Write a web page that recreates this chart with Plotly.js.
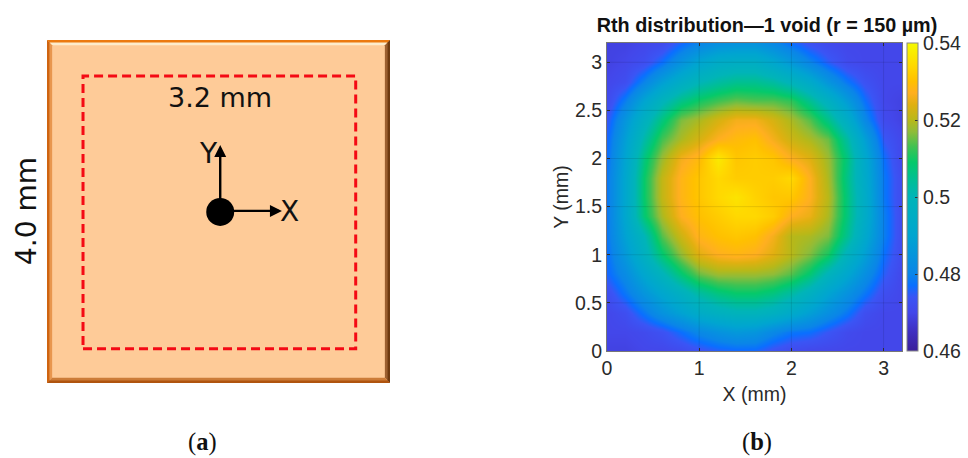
<!DOCTYPE html>
<html><head><meta charset="utf-8">
<script src="https://cdn.plot.ly/plotly-3.0.1.min.js"></script>
<style>html,body{margin:0;padding:0;background:#fff}#c{width:968px;height:458px}</style>
</head><body><div id="c"></div>
<script>
const gridX=[0,.2,.4,.6,.8,1,1.2,1.4,1.6,1.8,2,2.2,2.4,2.6,2.8,3,3.2];
const gridY=[0,.2,.4,.6,.8,1,1.2,1.4,1.6,1.8,2,2.2,2.4,2.6,2.8,3,3.2];
const rth=[
[.469,.469,.470,.470,.471,.473,.475,.476,.476,.473,.471,.470,.470,.470,.470,.470,.470],
[.470,.470,.471,.473,.477,.481,.484,.486,.485,.481,.478,.477,.474,.471,.470,.470,.470],
[.470,.472,.478,.484,.489,.494,.497,.499,.499,.497,.493,.488,.483,.478,.472,.470,.470],
[.472,.478,.485,.491,.497,.503,.507,.509,.509,.507,.503,.497,.490,.484,.478,.472,.470],
[.476,.482,.491,.499,.508,.515,.518,.518,.518,.517,.514,.508,.499,.491,.483,.475,.470],
[.477,.486,.497,.508,.517,.524,.527,.528,.527,.524,.520,.516,.510,.498,.488,.477,.471],
[.478,.489,.500,.514,.522,.528,.530,.531,.530,.526,.520,.519,.516,.505,.492,.479,.471],
[.478,.491,.508,.519,.527,.530,.532,.534,.534,.532,.527,.525,.519,.507,.494,.479,.471],
[.478,.491,.509,.521,.528,.531,.534,.536,.533,.531,.531,.527,.520,.507,.494,.478,.471],
[.478,.491,.509,.521,.528,.531,.534,.532,.532,.532,.534,.527,.519,.506,.493,.478,.471],
[.477,.490,.507,.518,.526,.529,.537,.531,.532,.531,.527,.524,.518,.507,.492,.477,.470],
[.476,.488,.502,.513,.519,.523,.527,.529,.530,.526,.522,.519,.515,.503,.488,.474,.470],
[.474,.485,.497,.507,.516,.519,.523,.526,.526,.523,.519,.514,.506,.495,.481,.471,.469],
[.471,.479,.490,.499,.506,.510,.513,.515,.514,.514,.512,.505,.497,.487,.477,.470,.469],
[.470,.472,.480,.488,.495,.500,.503,.505,.505,.503,.499,.493,.485,.478,.473,.470,.470],
[.469,.470,.472,.477,.484,.490,.494,.495,.495,.491,.486,.480,.475,.471,.470,.470,.470],
[.469,.469,.470,.471,.476,.480,.483,.484,.484,.481,.477,.473,.471,.470,.470,.470,.470]
];
const colorStops=[[.46,'#3a1f9a'],[.465,'#3f2fc0'],[.47,'#4347ea'],[.474,'#3a55f5'],[.477,'#0a6fff'],[.48,'#0a85e8'],[.49,'#00a5d0'],[.50,'#00b4b8'],[.505,'#00c090'],[.509,'#05c96a'],[.513,'#40c252'],[.517,'#90bc38'],[.52,'#b8b818'],[.524,'#e0b010'],[.527,'#ffaf20'],[.530,'#ffc000'],[.534,'#ffd800'],[.54,'#f5fa00']];
const zMin=.46,zMax=.54;
const colorTicks=[.46,.48,.5,.52,.54];
const colorTickText=['0.46','0.48','0.5','0.52','0.54'];
const xTicks=[0,1,2,3];
const yTicks=[0,.5,1,1.5,2,2.5,3];
const yTickText=['0','0.5','1','1.5','2','2.5','3'];
const title='Rth distribution—1 void (r = 150 µm)';
const dieSize=4.0, regionMin=.42, regionMax=3.6;
const origin=[2.02,1.995], dotR=.163, yTip=2.775, xTip=2.74;

const W=968,H=458;
const sans='"Liberation Sans",Arial,sans-serif';
const scale=colorStops.map(s=>[(s[0]-zMin)/(zMax-zMin),s[1]]);
const poly=(pts,fill)=>({type:'path',xref:'x2',yref:'y2',layer:'below',line:{width:0},fillcolor:fill,
  path:'M'+pts.map(p=>p.join(',')).join(' L')+' Z'});
const D=dieSize, b1=.06, b2=.028;
const bevel=(b,top,left,right,bottom)=>[
 poly([[0,D],[D,D],[D-b,D-b],[b,D-b]],top),
 poly([[0,0],[b,b],[b,D-b],[0,D]],left),
 poly([[D,0],[D-b,b],[D-b,D-b],[D,D]],right),
 poly([[0,0],[D,0],[D-b,b],[b,b]],bottom)];
const gridLine={color:'rgba(0,0,0,.1)',width:1};
const gridShapes=[
 ...xTicks.filter(v=>v>0).map(v=>({type:'line',xref:'x',yref:'y',x0:v,x1:v,y0:0,y1:3.2,line:gridLine})),
 ...yTicks.filter(v=>v>0).map(v=>({type:'line',xref:'x',yref:'y',x0:0,x1:3.2,y0:v,y1:v,line:gridLine}))
];
const shapes=[
 {type:'rect',xref:'x2',yref:'y2',x0:0,y0:0,x1:D,y1:D,layer:'below',line:{width:0},fillcolor:'#fecb98'},
 ...bevel(b1,'#fdeccc','#e8964e','#9c6030','#cc7c38'),
 ...bevel(b2,'#ec7a10','#cf6410','#6e3a10','#b0540e'),
 {type:'rect',xref:'x2',yref:'y2',x0:regionMin,y0:D-regionMax,x1:regionMax,y1:D-regionMin,line:{color:'#f40a14',width:3,dash:'9px,5px'}},
 {type:'circle',xref:'x2',yref:'y2',x0:origin[0]-dotR,x1:origin[0]+dotR,y0:origin[1]-dotR,y1:origin[1]+dotR,fillcolor:'#000',line:{width:0}},
 ...gridShapes
];
const ann=(x,y,text,size,extra)=>Object.assign({xref:'paper',yref:'paper',x:x/W,y:1-y/H,text,showarrow:false,xanchor:'center',yanchor:'middle',font:{size,color:'#111',family:'"DejaVu Sans",sans-serif'}},extra||{});
const arrow=(x,y,ax,ay)=>({xref:'x2',yref:'y2',axref:'x2',ayref:'y2',x,y,ax,ay,text:'',showarrow:true,arrowhead:2,arrowsize:1,arrowwidth:2.4,arrowcolor:'#000'});
const serif={size:24.5,color:'#111',family:'"Liberation Serif",serif'};
const annotations=[
 ann(220,98,'3.2 mm',27),
 ann(26,211,'4.0 mm',28,{textangle:-90}),
 ann(208,153,'Y',28),
 ann(289,211,'X',28),
 ann(202,441.5,'(<b>a</b>)',24.5,{font:serif}),
 ann(757,441.5,'(<b>b</b>)',24.5,{font:serif}),
 arrow(origin[0],yTip,origin[0],origin[1]),
 arrow(xTip,origin[1]+.012,origin[0],origin[1]+.012)
];
const ax={ticks:'inside',ticklen:3,tickwidth:1,tickcolor:'#333',showgrid:false,zeroline:false,showline:true,linecolor:'#777',linewidth:1,mirror:'ticks',tickfont:{size:19.5,color:'#2a2a2a',family:sans},automargin:false};
Plotly.newPlot('c',[
 {type:'heatmap',x:gridX,y:gridY,z:rth,zmin:zMin,zmax:zMax,zsmooth:'best',colorscale:scale,hoverinfo:'skip',
  colorbar:{thickness:11,thicknessmode:'pixels',lenmode:'fraction',len:308/H,x:907/W,xanchor:'left',xref:'paper',y:(H-351)/H,yanchor:'bottom',yref:'paper',xpad:0,ypad:0,outlinecolor:'#888',outlinewidth:1,
   tickmode:'array',tickvals:colorTicks,ticktext:colorTickText,ticks:'inside',ticklen:3,tickcolor:'#333',tickfont:{size:19.5,color:'#2a2a2a',family:sans}}}
],{
 width:W,height:H,margin:{l:0,r:0,t:0,b:0},paper_bgcolor:'#fff',plot_bgcolor:'#fff',showlegend:false,
 title:{text:'<b>'+title+'</b>',x:767/W,xref:'paper',xanchor:'center',y:1-25/H,yref:'paper',yanchor:'middle',font:{size:19.8,color:'#111',family:sans}},
 xaxis:Object.assign({},ax,{domain:[607/W,902/W],range:[0,3.2],anchor:'y',tickmode:'array',tickvals:xTicks,ticktext:xTicks.map(String),title:{text:'X (mm)',standoff:8,font:{size:19.5,color:'#2a2a2a',family:sans}}}),
 yaxis:Object.assign({},ax,{domain:[(H-351)/H,(H-43)/H],range:[0,3.2],anchor:'x',tickmode:'array',tickvals:yTicks,ticktext:yTickText,title:{text:'Y (mm)',standoff:1,font:{size:19.5,color:'#2a2a2a',family:sans}}}),
 xaxis2:{domain:[47/W,390/W],range:[0,4],anchor:'y2',visible:false,fixedrange:true},
 yaxis2:{domain:[75/H,418/H],range:[0,4],anchor:'x2',visible:false,fixedrange:true},
 shapes,annotations
},{staticPlot:true,displayModeBar:false});
</script></body></html>
